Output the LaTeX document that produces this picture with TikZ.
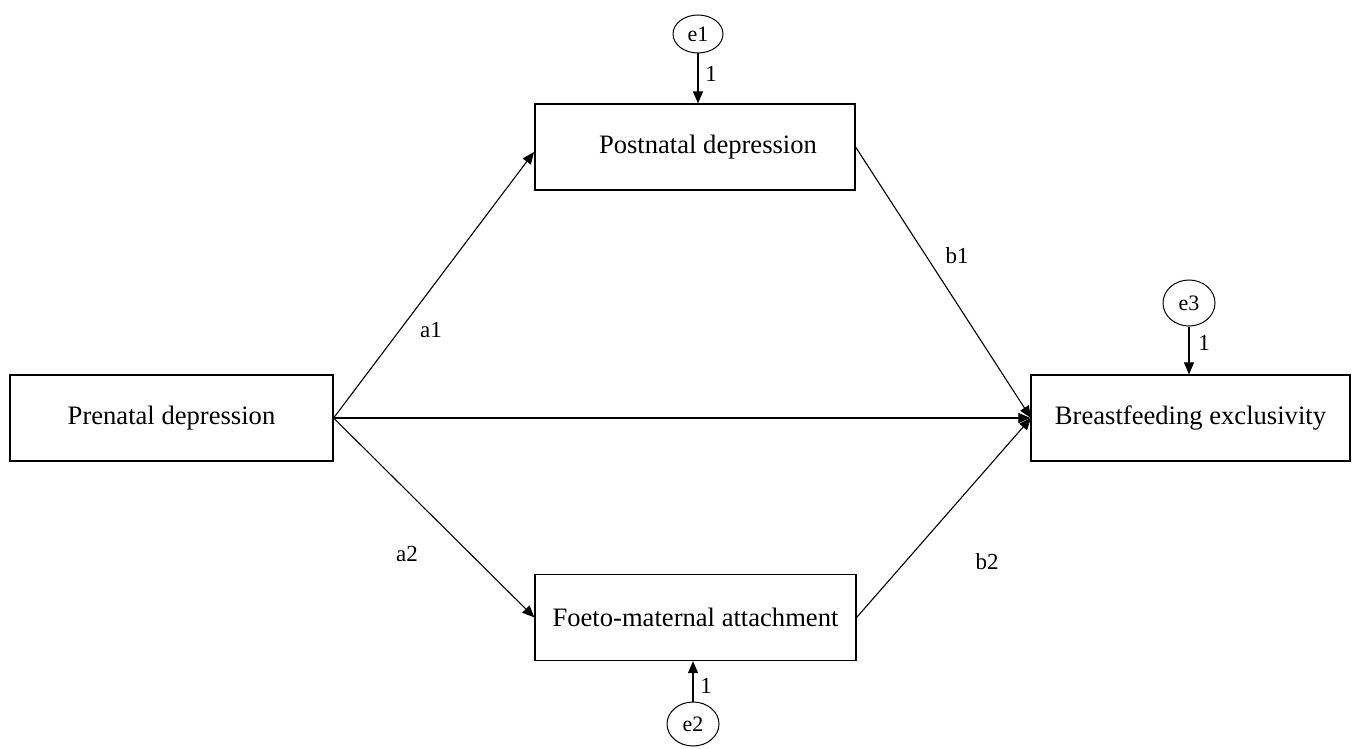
\documentclass[tikz,border=0pt]{standalone}
\usepackage{fontspec}
\setmainfont{Liberation Serif}
\usetikzlibrary{arrows.meta,shapes.geometric}
\begin{document}
\begin{tikzpicture}[x=0.5pt,y=-0.5pt,
  box/.style={draw, line width=0.6pt, inner sep=0pt, font=\fontsize{13.3}{15}\selectfont},
  err/.style={draw, ellipse, line width=0.5pt, inner sep=0pt, font=\fontsize{11}{13}\selectfont},
  conn/.style={line width=0.55pt, -{Triangle[length=6pt,width=5pt]}},
  lab/.style={font=\fontsize{11.5}{13}\selectfont}]
\useasboundingbox (0,0) rectangle (1361,749);
\node[box, minimum width=161.5pt, minimum height=43pt] (pre) at (171.5,418) {Prenatal depression};
\node[box, minimum width=160pt, minimum height=43pt] (post) at (695,147) {\hspace*{13pt}Postnatal depression};
\node[box, minimum width=160.5pt, minimum height=43pt] (foe) at (695.5,617.5) {Foeto-maternal attachment};
\node[box, minimum width=159.5pt, minimum height=43pt] (bf) at (1190.5,418) {Breastfeeding exclusivity};
\node[err, minimum width=25pt, minimum height=19pt] (e1) at (698,34) {e1};
\node[err, minimum width=26pt, minimum height=22pt] (e2) at (693,724) {e2};
\node[err, minimum width=26pt, minimum height=23pt] (e3) at (1189,303) {e3};
\coordinate (p1) at (534,152);
\coordinate (p2) at (1031,418);
\draw[conn] (pre.east) -- (p1);
\draw[conn] (pre.east) -- (foe.west);
\draw[conn] (pre.east) -- (bf.west);
\draw[conn] (post.east) -- (p2);
\draw[conn] (foe.east) -- (p2);
\draw[conn] (e1.south) -- (e1.south |- post.north);
\draw[conn] (e2.north) -- (e2.north |- foe.south);
\draw[conn] (e3.south) -- (e3.south |- bf.north);
\node[lab] (l1) at (711,74) {1};
\node[lab] (l2) at (706,686) {1};
\node[lab] (l3) at (1204,343) {1};
\node[lab] (a1) at (431,330) {a1};
\node[lab] (a2) at (407,554) {a2};
\node[lab] (b1) at (957,256) {b1};
\node[lab] (b2) at (987,562) {b2};
\end{tikzpicture}
\end{document}
